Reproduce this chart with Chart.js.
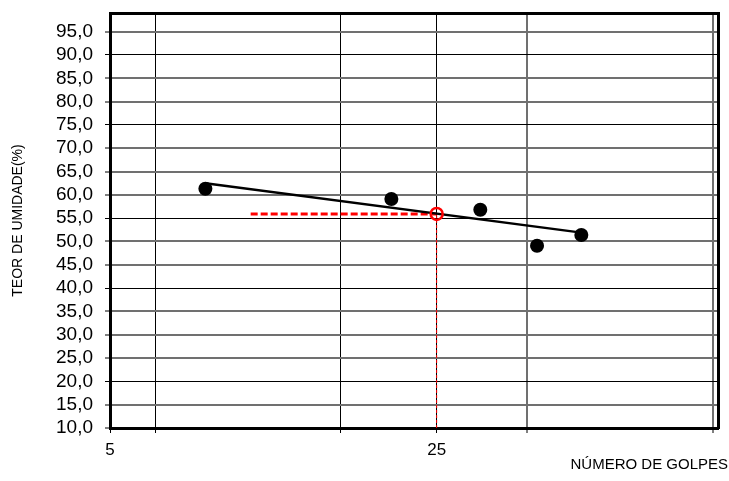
<!DOCTYPE html>
<html>
<head>
<meta charset="utf-8">
<script src="https://cdn.jsdelivr.net/npm/chart.js@4/dist/chart.umd.min.js"></script>
<style>
  html, body { margin: 0; padding: 0; background: #ffffff; }
  #wrap { width: 729px; height: 481px; }
</style>
</head>
<body>
<div id="wrap"><canvas id="c" width="729" height="481"></canvas></div>
<script>
// ---- data ----
const blows = [8, 20, 31, 41, 51];
const moisture = [61.3, 59.1, 56.8, 49.1, 51.4];
const trendBlows = [8, 51];
const trendMoisture = [62.5, 51.9];
const llBlows = 25;
const llMoisture = 55.9;
const guideStartBlows = 10;
const yMin = 10;
const yMax = 99;
const xMin = 5;
const xMax = 100;
const yTickValues = [10, 15, 20, 25, 30, 35, 40, 45, 50, 55, 60, 65, 70, 75, 80, 85, 90, 95];
const xGridValues = [5, 6.25, 15.6, 25, 39, 97.7];
const xLabelValues = [5, 25];
const xAxisTitle = 'NÚMERO DE GOLPES';
const yAxisTitle = 'TEOR DE UMIDADE(%)';

const FONT = '"Liberation Sans", Arial, sans-serif';
const darkY = [90, 75, 55, 40, 20];
const darkX = [5, 6.25, 15.6, 25];

const ctx = document.getElementById('c').getContext('2d');
new Chart(ctx, {
  type: 'scatter',
  data: {
    datasets: [
      {
        label: 'pontos',
        data: blows.map((b, i) => ({ x: b, y: moisture[i] })),
        showLine: false,
        pointRadius: 7,
        pointHoverRadius: 7,
        pointBackgroundColor: '#000',
        pointBorderColor: '#000',
        pointBorderWidth: 0,
        order: 0
      },
      {
        label: 'LL',
        data: [{ x: llBlows, y: llMoisture }],
        showLine: false,
        pointRadius: 6,
        pointBackgroundColor: 'rgba(0,0,0,0)',
        pointBorderColor: '#ff0000',
        pointBorderWidth: 2.5,
        order: 1
      },
      {
        label: 'tendência',
        data: trendBlows.map((b, i) => ({ x: b, y: trendMoisture[i] })),
        showLine: true,
        borderColor: '#000',
        borderWidth: 2.5,
        pointRadius: 0,
        order: 2
      },
      {
        label: 'guia horizontal',
        data: [{ x: guideStartBlows, y: llMoisture }, { x: llBlows, y: llMoisture }],
        showLine: true,
        borderColor: '#ff0000',
        borderWidth: 3,
        borderDash: [7, 3],
        pointRadius: 0,
        order: 3
      },
      {
        label: 'guia vertical',
        data: [{ x: llBlows, y: yMin }, { x: llBlows, y: llMoisture }],
        showLine: true,
        borderColor: '#ff0000',
        borderWidth: 1,
        borderDash: [3, 2],
        pointRadius: 0,
        order: 3
      }
    ]
  },
  options: {
    responsive: false,
    animation: false,
    events: [],
    layout: { padding: { top: 13, right: 1, bottom: 0, left: 0 } },
    plugins: {
      legend: { display: false },
      tooltip: { enabled: false },
      title: {
        display: true,
        text: xAxisTitle,
        position: 'bottom',
        align: 'end',
        color: '#000',
        font: { family: FONT, size: 15, weight: 'normal' },
        padding: { top: 0, bottom: 7 }
      }
    },
    scales: {
      x: {
        type: 'logarithmic',
        position: 'bottom',
        min: xMin,
        max: xMax,
        afterBuildTicks: (s) => { s.ticks = xGridValues.map(v => ({ value: v })); },
        afterFit: (s) => { s.height = 28; s.paddingLeft = 0; s.paddingRight = 0; },
        ticks: {
          autoSkip: false,
          maxRotation: 0,
          minRotation: 0,
          padding: 7,
          color: '#000',
          font: { family: FONT, size: 17 },
          callback: (v) => xLabelValues.includes(v) ? String(v) : ''
        },
        grid: {
          color: (c) => darkX.includes(c.tick && c.tick.value) ? '#000' : '#707070',
          lineWidth: (c) => darkX.includes(c.tick && c.tick.value) ? 1 : 2,
          tickColor: '#000',
          tickLength: 5,
          tickWidth: 1
        },
        border: { display: true, color: '#000', width: 3 }
      },
      x2: {
        type: 'linear',
        position: 'top',
        min: 0, max: 1,
        afterFit: (s) => { s.height = 0; s.paddingLeft = 0; s.paddingRight = 0; },
        ticks: { display: false },
        grid: { display: true, drawOnChartArea: false, drawTicks: false },
        border: { display: true, color: '#000', width: 3 }
      },
      y: {
        type: 'linear',
        position: 'left',
        min: yMin,
        max: yMax,
        afterBuildTicks: (s) => { s.ticks = yTickValues.map(v => ({ value: v })); },
        afterFit: (s) => { s.width = 110; s.paddingTop = 0; s.paddingBottom = 0; },
        title: {
          display: true,
          text: yAxisTitle,
          color: '#000',
          font: { family: FONT, size: 14 },
          padding: { top: 10, bottom: 0 }
        },
        ticks: {
          autoSkip: false,
          padding: 12,
          color: '#000',
          font: { family: FONT, size: 19 },
          callback: (v) => Number(v).toFixed(1).replace('.', ',')
        },
        grid: {
          color: (c) => darkY.includes(c.tick && c.tick.value) ? '#000' : '#707070',
          lineWidth: (c) => darkY.includes(c.tick && c.tick.value) ? 1 : 2,
          tickColor: '#000',
          tickLength: 5,
          tickWidth: 1
        },
        border: { display: true, color: '#000', width: 3 }
      },
      y2: {
        type: 'linear',
        position: 'right',
        min: 0, max: 1,
        afterFit: (s) => { s.width = 10; s.paddingTop = 0; s.paddingBottom = 0; },
        ticks: { display: false },
        grid: { display: true, drawOnChartArea: false, drawTicks: false },
        border: { display: true, color: '#000', width: 3 }
      }
    }
  }
});
</script>
</body>
</html>
